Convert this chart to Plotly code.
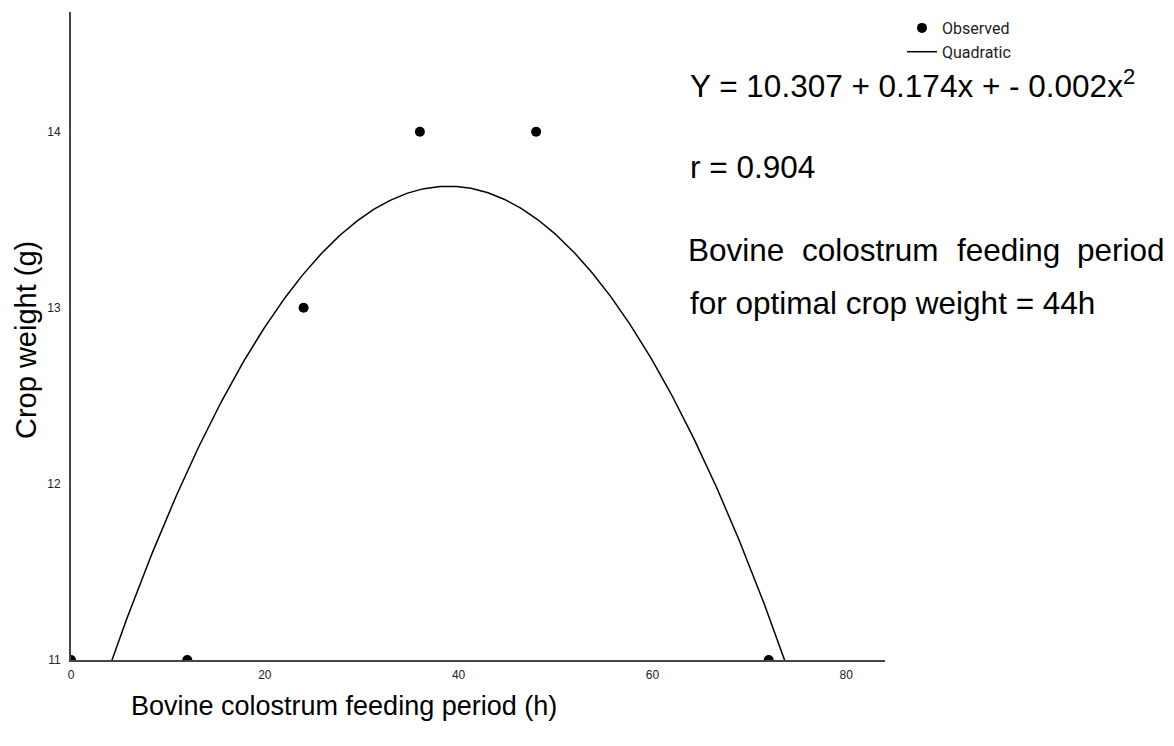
import numpy as np
import plotly.graph_objects as go

# Observed data
feeding_period_h = [0, 12, 24, 36, 48, 72]
crop_weight_g = [11, 11, 13, 14, 14, 11]

x_ticks = [0, 20, 40, 60, 80]
y_ticks = [11, 12, 13, 14]

equation_text = "Y = 10.307 + 0.174x + - 0.002x<sup>2</sup>"
r_text = "r = 0.904"
note_line1_words = ["Bovine", "colostrum", "feeding", "period"]
note_line2 = "for optimal crop weight = 44h"

# Quadratic fit from the observed data
coef = np.polyfit(feeding_period_h, crop_weight_g, 2)
xs = np.linspace(0, 84, 400)
ys = np.polyval(coef, xs)

# Plot area in screen pixels (page has 8px body margin)
PX0, PX1, PY0, PY1 = 71, 885, 12, 660
W, H = 1158, 730


def px(x):
    return (x - PX0) / (PX1 - PX0)


def py(y):
    return (PY1 - y) / (PY1 - PY0)


fig = go.Figure()
fig.add_trace(go.Scatter(
    x=feeding_period_h, y=crop_weight_g, mode="markers", name="Observed",
    marker=dict(color="black", size=10),
))
fig.add_trace(go.Scatter(
    x=xs, y=ys, mode="lines", name="Quadratic",
    line=dict(color="black", width=1.5),
))

fig.update_layout(
    width=W, height=H,
    margin=dict(l=PX0 - 8, r=W - (PX1 - 8), t=PY0 - 8, b=H - (PY1 - 8), autoexpand=False),
    plot_bgcolor="white", paper_bgcolor="white",
    font=dict(family="Arial, Liberation Sans, sans-serif", color="black"),
    showlegend=True,
    legend=dict(
        x=px(902), y=py(11), xanchor="left", yanchor="top",
        font=dict(family="Roboto, Liberation Sans", size=16, color="#222"),
        bgcolor="rgba(0,0,0,0)", tracegroupgap=0, itemwidth=30,
    ),
    xaxis=dict(
        range=[0, 84], tickvals=x_ticks, showgrid=False, zeroline=False,
        showline=True, linecolor="#444", linewidth=2, ticks="",
        tickfont=dict(size=12, color="#222"), ticklabelstandoff=3,
    ),
    yaxis=dict(
        range=[11, 14.68], tickvals=y_ticks, showgrid=False, zeroline=False,
        showline=True, linecolor="#444", linewidth=2, ticks="",
        tickfont=dict(size=12, color="#222"), ticklabelstandoff=6,
    ),
)

FS = 31.5
ann_font = dict(family="Arial, Liberation Sans, sans-serif", size=FS, color="black")
LEFT = 688
for txt, yy in [(equation_text, 84), (r_text, 167), (note_line2, 303)]:
    fig.add_annotation(text=txt, showarrow=False, xanchor="left", yanchor="middle", font=ann_font,
                       xref="paper", yref="paper", x=px(LEFT), y=py(yy))

# justified line: spread words between LEFT and RIGHT
RIGHT = 1165
em = [3.057, 4.334, 3.28, 2.779]
widths = [e * FS for e in em]
gap = (RIGHT - LEFT - sum(widths)) / 3
cur = LEFT
for word, wdt in zip(note_line1_words, widths):
    fig.add_annotation(text=word, showarrow=False, xanchor="center", yanchor="middle", font=ann_font,
                       xref="paper", yref="paper", x=px(cur + wdt / 2), y=py(250))
    cur += wdt + gap

# axis titles
fig.add_annotation(text="Bovine colostrum feeding period (h)", showarrow=False,
                   xref="paper", yref="paper", x=px(344), y=py(706),
                   xanchor="center", yanchor="middle",
                   font=dict(family="Arial, Liberation Sans, sans-serif", size=27, color="black"))
fig.add_annotation(text="Crop weight (g)", showarrow=False, textangle=-90,
                   xref="paper", yref="paper", x=px(26), y=py(340),
                   xanchor="center", yanchor="middle",
                   font=dict(family="Arial, Liberation Sans, sans-serif", size=29, color="black"))

fig.write_html("out.html")
